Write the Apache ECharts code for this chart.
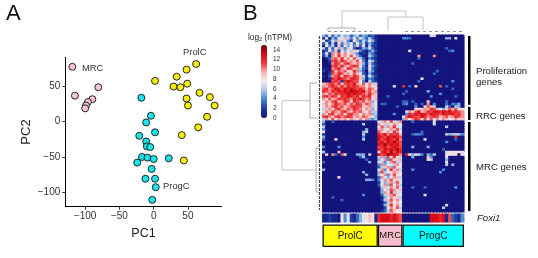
<!DOCTYPE html>
<html><head><meta charset="utf-8">
<style>html,body{margin:0;padding:0;background:#fff}#c{width:538px;height:258px}</style>
<script src="https://cdn.jsdelivr.net/npm/echarts@6/dist/echarts.min.js"></script>
</head><body><div id="c"></div>
<script>
const FONT = '"Liberation Sans", Arial, sans-serif';
// PCA scores (PC1, PC2)
const mrcPoints = [[-118.7,78],[-115,37],[-80.8,49],[-89.5,32],[-96,28],[-98.8,23],[-100,19]];
const prolPoints = [[62,82],[48,74],[33.6,64],[2,58],[29,50],[39,49],[49,54],[67,41],[82,35],[48,33],[50,23],[89,23],[78,7],[65,-8],[41,-19],[44,-55]];
const progPoints = [[-18,34],[-4,8.5],[-11,-1],[2,-15],[-21,-20],[-11,-28],[-10,-35],[-5,-36],[-17,-50],[-9,-51],[0,-53],[22,-52],[-24,-58],[-3,-67],[-12,-81],[2,-81],[3,-93],[-2,-111]];

// Heatmap: one hex digit per cell (log2 nTPM), columns ProlC | MRC | ProgC
const heatRows = [
"538364756356354231 00000000 00000000077000000000",
"281537869474853631 00000000 44300000000000550700",
"723859674285364852 00000000 00000000000000000000",
"372618495738462531 00000000 00000000000000000000",
"184629375849371622 00000000 00000000000000000000",
"627385946830254731 00000000 00000000000000300000",
"138492758697420352 00000000 00700000000000034000",
"372a9b8a7964021531 00000000 00000000000000000000",
"251a8c9a7b85301642 00000000 00000a0000a000000000",
"013ab9c8a7b9630421 00000000 00000300000000000000",
"002bcacb9a8b841752 00000000 00000000000000000000",
"001acb9bca9a952631 00000000 00030000000000000000",
"000bcaca9bcb741842 00000000 00000000000000000000",
"110abca8cb9a632731 00000000 00000000000000000000",
"201c9bab89ca530641 00000000 00000000000300000000",
"002bacb9a8b9731521 00000000 00000000003000000000",
"103abc9cbacb962742 00000000 00000000000000000000",
"001cbdcbaccb951431 00000000 00000070000000000000",
"000bcb2cdcbb840632 00000000 00000300000000004000",
"9abcac9bcbda8b7a69 00000000 00000000000000000000",
"a9bcbacacbcbaa8a79 00000700 c03080000000b030000000",
"bcabdcbdcdcbcb9ba8 00000000 00000000000000003000",
"cbacbdcdceddcdab9a 00000000 03000000500000000000",
"a9bacbccdcdccbaca9 00000000 30000000000040000000",
"bcacb9cbdcbcacbc89 00030000 00000000040000000300",
"a8b9acbcbacbdbab89 00000000 00000000000000000000",
"8a9bc9acb8cbab9a57 00000000 33030000900000300000",
"9a8acbab9bacb9ba68 03300000 34003030a04000304350",
"7a9bcab9abcbb99a67 00000030 00004007b96000630650",
"69a8bca9bacba8a958 00000000 0000889a9cb6759b9b88",
"8a9ba9bca9bab97a66 00000000 07a8bd9acbddcdcdbcba",
"a8bc9ab8bcaa8a9a56 00000400 04cbdcdcbdccbdccdbca",
"bca9bcabcb9a9ba975 00000000 7bdcbbdcabcb9ab9acba",
"6a8b7a9a8a97a7a546 00000000 5a8acb8b7b8a7a987a89",
"500300000000000000 79a8b76a 00030000007000000000",
"300000000000060000 a7967a98 00000000007000000000",
"600000000000000000 8b6a9c77 00000000000000600000",
"400000000000005000 9a78a9b6 00000000000000000000",
"700000000000056000 b98a7ca8 00000030000000000000",
"200000000000060000 cbdacbc9 00034430000000656664",
"500000000000040000 dcbdcdcb 00000000000000000c00",
"300080000000060000 dbcdcbda 00000007000000000300",
"000000000000000000 cdbdcecb 00000000000000400000",
"000000000000000000 dcecdcdb 00000000000000000000",
"400004000000000000 bcdbcdcb 00050000500000000000",
"000000000000000000 cbdcdcec 00000000000003000000",
"600009000000000000 8cdbebdc 00000000000000787887",
"080a30b70005550600 dbceddca 0c857640536000888808",
"000000000000360000 6a5b8c79 00050000940000700000",
"000000000000003000 57a4b896 00000000860000500000",
"300000000000000500 8647ab69 00000000000000800000",
"000000000000000000 4a5876a8 00000000000000605000",
"000000000000000000 369a5b87 00000000000000000000",
"500000000000000000 7a48c9a6 00040000000004000000",
"000000000000050000 5b678a97 00000000000040000000",
"000000000000005000 68a49b78 00000000000000000000",
"000008000000000000 3a758a96 00000000000000000000",
"000000000000005540 47a6b897 00000000000000000000",
"000000000000000000 2859a6b7 00000000000000000000",
"000000000000000000 37a5b8a6 00000000000000000000",
"000000000000000000 1697a8b7 00030003000000000400",
"000000000000000000 0586ba79 00000000000000000000",
"000000000000000000 15a7c697 00000000000000000000",
"000000000000040000 0369ab87 00000007000000000000",
"000300000000000000 0157a896 00000000000000000000",
"000000300000000000 0269b8a7 00000000000000000000",
"000000000000000000 0036a897 00000000000000000000",
"000000000000000000 0159c7a8 00000000000000700000",
"000000000000000000 0027a8b6 00000000000006000000",
"000000000000000000 0136b987 00000000000000000000"
];
const foxi1Row = "112110847213578981 cdddcdcb 000000000dddcd1b3214";
const groupNames = ["ProlC","MRC","ProgC"];
const groupColumns = [18,8,20];
const groupColors = ["#ffff00","#f6bccb","#00ffff"];
const geneNames = ["Proliferation genes","RRC genes","MRC genes"];
const geneRows = [28,6,36];
const legendTicks = [0,2,4,6,8,10,12,14];

// Dendrogram branches as polyline vertices, on the page-sized helper axes
const dendroTop = [[342,28],[342,11],[406,11],[406,17]];
const dendroTopL = [[328,31],[328,28],[355,28],[355,31]];
const dendroTopR = [[388,31],[388,17],[423,17],[423,30]];
const dendroLeft = [[310,100.7],[282,100.7],[282,170],[316,170]];
const dendroLeft2 = [[317,83],[310,83],[310,118],[318,118]];
const dendroLeft3 = [[319,148],[316,148],[316,192],[319,192]];
const dendroLeafTop = [[328,31.5],[372,31.5]];
const dendroLeafTop2 = [[405,31.5],[462,31.5]];
const dendroLeafLeft = [[319.5,36],[319.5,210]];

const toHeat = (rows) => {
  const out = [];
  rows.forEach((r, y) => {
    r.replace(/ /g,'').split('').slice(0,46).forEach((ch, x) => out.push([x, y, parseInt(ch,16)]));
  });
  return out;
};
const heatData = toHeat(heatRows);
const nCols = groupColumns.reduce((a,b)=>a+b,0);
const colCats = Array.from({length:nCols},(_, i)=>i);
const rowCats = heatRows.map((_, i)=>i);
const foxiData = toHeat([foxi1Row]);

// Cells are drawn a hair larger than their band so no seams show between them
const renderCell = (params, api) => {
  const c = api.coord([api.value(0), api.value(1)]);
  const s = api.size([1, 1]);
  return {type:'rect',shape:{x:c[0]-s[0]/2-0.5,y:c[1]-s[1]/2-0.5,width:s[0]+1,height:s[1]+1},
    style:{fill:api.visual('color')}};
};
const dendroSeries = (pts, color, width, type) => ({
  type:'line', xAxisIndex:5, yAxisIndex:5, data:pts, symbol:'none', silent:true, animation:false,
  lineStyle:{color, width, type:type||'solid'}
});
const hidden = {show:false};
const txt = (x,y,text,size,extra) => ({type:'text',x,y,silent:true,style:Object.assign({text,fill:'#222',font:size+'px '+FONT},extra||{})});

const tickFmt = v => String(v).replace('-','\u2212');
const option = {
  animation:false,
  textStyle:{fontFamily:FONT},
  grid:[
    {left:65.3,top:57.3,width:156.4,height:149.4},
    {left:322.5,top:35,width:141.5,height:177},
    {left:322.5,top:214,width:141.5,height:8},
    {left:322.5,top:224.5,width:141.5,height:22.5},
    {left:467,top:35,width:4.5,height:177},
    {left:0,top:0,width:538,height:258},
    {left:267,top:45,width:1,height:73}
  ],
  xAxis:[
    {gridIndex:0,type:'value',min:-129,max:99.3,interval:50,splitLine:hidden,
      axisLine:{onZero:false,lineStyle:{color:'#000',width:1}},axisTick:{length:3,lineStyle:{color:'#333'},customValues:[-100,-50,0,50]},
      axisLabel:{fontSize:10,color:'#333',margin:5,formatter:tickFmt,customValues:[-100,-50,0,50]},
      name:'PC1',nameLocation:'middle',nameGap:16,nameTextStyle:{fontSize:12.5,color:'#222'}},
    {gridIndex:1,type:'category',data:colCats,show:false},
    {gridIndex:2,type:'category',data:colCats,show:false},
    {gridIndex:3,type:'value',min:0,max:nCols,show:false},
    {gridIndex:4,type:'category',data:['g'],show:false},
    {gridIndex:5,type:'value',min:0,max:538,show:false},
    {gridIndex:6,type:'value',min:0,max:1,show:false}
  ],
  yAxis:[
    {gridIndex:0,type:'value',min:-120.7,max:91.5,splitLine:hidden,
      axisLine:{onZero:false,lineStyle:{color:'#000',width:1}},axisTick:{length:3,lineStyle:{color:'#333'},customValues:[-100,-50,0,50]},
      axisLabel:{fontSize:10,color:'#333',margin:5,formatter:tickFmt,customValues:[-100,-50,0,50]},
      name:'PC2',nameLocation:'middle',nameGap:32,nameRotate:90,nameTextStyle:{fontSize:13,color:'#222'}},
    {gridIndex:1,type:'category',data:rowCats,inverse:true,show:false},
    {gridIndex:2,type:'category',data:[0],show:false},
    {gridIndex:3,type:'category',data:['g'],show:false},
    {gridIndex:4,type:'value',min:0,max:heatRows.length,inverse:true,show:false},
    {gridIndex:5,type:'value',min:0,max:258,inverse:true,show:false},
    {gridIndex:6,type:'value',min:0,max:15,position:'right',splitLine:hidden,
      axisLine:hidden,axisTick:hidden,
      axisLabel:{fontSize:6.5,color:'#333',margin:5,customValues:legendTicks}}
  ],
  visualMap:{
    type:'continuous',min:0,max:15,seriesIndex:[3,4],calculable:false,realtime:false,
    left:261,top:45,padding:0,itemWidth:6,itemHeight:73,text:null,showLabel:false,
    handleStyle:{opacity:0},indicatorStyle:{opacity:0},
    inRange:{color:['#14147c','#1e3a9e','#3f82d0','#a9c4e6','#f4ecee','#f7b4b6','#ee3a3c','#d60a14','#6e0010']}
  },
  series:[
    ...[[mrcPoints,'#f4c4cf'],[prolPoints,'#f7ec13'],[progPoints,'#1ce3e8']].map(([d,c])=>({
      type:'scatter',xAxisIndex:0,yAxisIndex:0,data:d,symbolSize:7,silent:true,
      itemStyle:{color:c,borderColor:'#111',borderWidth:0.9,opacity:1}})),
    {type:'custom',xAxisIndex:1,yAxisIndex:1,data:heatData,renderItem:renderCell,progressive:0,silent:true,encode:{x:0,y:1}},
    {type:'custom',xAxisIndex:2,yAxisIndex:2,data:foxiData,renderItem:renderCell,progressive:0,silent:true,encode:{x:0,y:1}},
    ...groupNames.map((n,i)=>({
      type:'bar',name:n,stack:'grp',xAxisIndex:3,yAxisIndex:3,data:[groupColumns[i]],barWidth:'100%',silent:true,
      itemStyle:{color:groupColors[i],borderColor:'#111',borderWidth:1.3},
      label:{show:true,position:'inside',formatter:n,fontSize:i==1?9.5:10,color:'#111'}})),
    ...geneNames.map((n,i)=>({
      type:'bar',name:n,stack:'gene',xAxisIndex:4,yAxisIndex:4,data:[geneRows[i]],barWidth:'100%',silent:true,
      itemStyle:{color:'#000',borderColor:'#fff',borderWidth:1}})),
    dendroSeries(dendroTop,'#b5b5b5',0.8),dendroSeries(dendroTopL,'#999',0.8),dendroSeries(dendroTopR,'#b5b5b5',0.8),
    dendroSeries(dendroLeft,'#b5b5b5',0.8),dendroSeries(dendroLeft2,'#999',0.8),dendroSeries(dendroLeft3,'#999',0.8),
    dendroSeries(dendroLeafTop,'#777',0.8,[3,3]),dendroSeries(dendroLeafTop2,'#777',0.8,[3,3]),
    dendroSeries(dendroLeafLeft,'#444',1.2,[3,1]),
    {type:'scatter',xAxisIndex:6,yAxisIndex:6,data:[],silent:true}
  ],
  graphic:{elements:[
    txt(6,3,'A',22,{fill:'#111'}),
    txt(243,3,'B',22,{fill:'#111'}),
    txt(82,64,'MRC',9.4,{fill:'#333'}),
    txt(183,48,'ProlC',9.4,{fill:'#333'}),
    txt(163,182,'ProgC',9.4,{fill:'#333'}),
    {type:'text',x:248,y:33,silent:true,style:{
      rich:{b:{fontSize:8.3,fontFamily:FONT,fill:'#222'},s:{fontSize:5.5,fontFamily:FONT,fill:'#222',padding:[3,0,0,0]}},
      text:'{b|log}{s|2}{b| (nTPM)}'}},
    txt(476,66,'Proliferation',9.6),
    txt(476,77,'genes',9.6),
    txt(476,111,'RRC genes',9.6),
    txt(476,162,'MRC genes',9.6),
    txt(477,213,'Foxi1',9.6,{font:'italic 9.6px '+FONT})
  ]}
};
echarts.init(document.getElementById('c'),null,{renderer:'canvas'}).setOption(option);
</script></body></html>
